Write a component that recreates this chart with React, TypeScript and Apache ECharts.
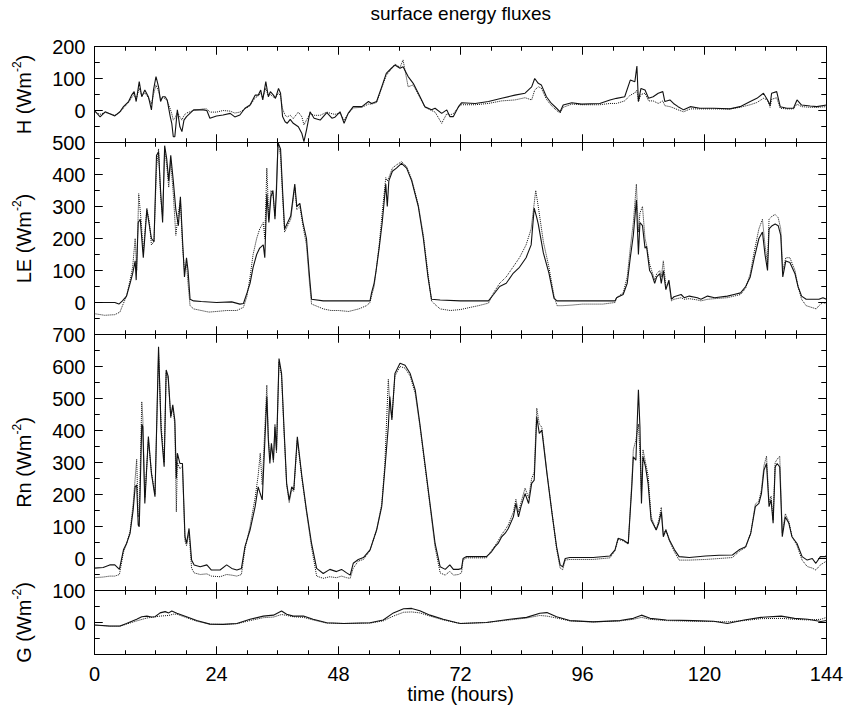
import React, { useEffect, useRef } from "react";
import * as echarts from "echarts";

// time (hours), value (W m-2)
const H_obs = [[0,0],[1.1,-20],[2.1,-4],[3,-10],[4,-17],[5,-4],[5.7,12],[6.7,28],[7.3,48],[7.8,59],[8.2,28],[8.8,90],[9.3,43],[9.9,64],[10.6,43],[11.2,2],[11.6,64],[12.1,106],[12.6,74],[13,28],[13.4,43],[13.9,43],[14.3,33],[14.9,-19],[15.2,-40],[15.5,-82],[15.8,-82],[16.3,2],[16.8,-51],[17.2,-66],[17.6,-30],[18.1,-19],[19.5,2],[21.4,2],[22.1,0],[22.7,-24],[24,-17],[25.3,-14],[26.7,-9],[27.6,-20],[28.6,-14],[29.6,7],[30.6,17],[31.6,48],[32.2,48],[32.7,64],[33.1,33],[33.7,90],[34.2,43],[34.6,59],[35.2,48],[35.6,38],[36.2,69],[36.6,54],[37,-19],[37.5,-35],[37.9,-40],[38.5,-28],[39.1,-40],[40.1,-51],[40.8,-72],[41.2,-97],[41.7,-61],[42.4,-4],[43.2,-24],[44.4,-30],[45.7,-7],[46.7,-24],[47.3,-21],[48.3,-4],[49.1,-40],[49.9,-9],[50.9,12],[52.6,12],[53.9,28],[54.5,22],[55.5,28],[56.5,74],[57.4,116],[58.4,132],[59.1,142],[60.1,132],[60.7,137],[61.7,106],[62.7,85],[63.7,54],[65,12],[66.3,2],[67,7],[68.3,-9],[69.3,2],[69.9,-19],[70.6,-19],[71.6,12],[72.2,24],[74.9,22],[77.5,28],[80.1,38],[82.7,48],[84.7,54],[86,74],[86.6,100],[87.3,85],[87.9,80],[88.9,43],[89.9,22],[90.9,7],[91.6,-4],[92.2,17],[93.9,24],[95.8,20],[99.4,22],[101.4,33],[102.7,38],[104.3,43],[105.4,95],[106.3,90],[106.7,139],[107,28],[107.5,69],[108.3,64],[109,38],[109.9,43],[110.9,54],[111.8,59],[112.2,28],[113.2,33],[113.9,22],[114.8,12],[115.9,2],[117.2,12],[119.1,7],[121.8,7],[125,5],[127,12],[129,28],[130.3,38],[131.6,54],[132.4,33],[132.9,17],[133.2,54],[134.2,59],[134.9,12],[136.2,7],[137.5,7],[138.2,33],[139.1,17],[140.8,14],[142.1,12],[144,17]];
const H_mod = [[0,-5],[1.1,-12],[2.1,-6],[3,-10],[4,-15],[5,-6],[5.7,8],[6.7,25],[7.3,40],[7.8,50],[8.2,35],[8.8,70],[9.3,45],[9.9,55],[10.6,40],[11.2,20],[11.6,50],[12.1,80],[12.6,60],[13,35],[13.4,40],[13.9,38],[14.3,30],[14.9,5],[15.2,-10],[15.5,-30],[15.8,-25],[16.3,-5],[16.8,-20],[17.2,-30],[17.6,-15],[18.1,-8],[19.5,0],[21.4,5],[22.1,5],[22.7,-5],[24,-5],[25.3,0],[26.7,-2],[27.6,-8],[28.6,-5],[29.6,5],[30.6,15],[31.6,40],[32.2,45],[32.7,55],[33.1,40],[33.7,70],[34.2,45],[34.6,50],[35.2,42],[35.6,40],[36.2,55],[36.6,45],[37,5],[37.5,-15],[37.9,-20],[38.5,-15],[39.1,-25],[40.1,-5],[40.8,-20],[41.2,-45],[41.7,-30],[42.4,-10],[43.2,-15],[44.4,-15],[45.7,-5],[46.7,-10],[47.3,-12],[48.3,-8],[49.1,-30],[49.9,-10],[50.9,8],[52.6,10],[53.9,20],[54.5,20],[55.5,25],[56.5,70],[57.4,110],[58.4,130],[59.1,145],[60.1,135],[60.7,158],[61.7,74],[62.7,80],[63.7,50],[65,10],[66.3,0],[67,-5],[68.3,-40],[69.3,-10],[69.9,-14],[70.6,-10],[71.6,10],[72.2,18],[74.9,18],[77.5,22],[80.1,30],[82.7,33],[84.7,40],[86,33],[86.6,64],[87.3,74],[87.9,70],[88.9,35],[89.9,15],[90.9,0],[91.6,-8],[92.2,10],[93.9,20],[95.8,18],[99.4,18],[101.4,22],[102.7,22],[104.3,30],[105.4,48],[106.3,55],[106.7,64],[107,28],[107.5,50],[108.3,54],[109,30],[109.9,30],[110.9,22],[111.8,30],[112.2,15],[113.2,12],[113.9,8],[114.8,2],[115.9,-4],[117.2,5],[119.1,5],[121.8,5],[125,5],[127,10],[129,18],[130.3,25],[131.6,38],[132.4,33],[132.9,10],[133.2,35],[134.2,40],[134.9,7],[136.2,5],[137.5,5],[138.2,20],[139.1,12],[140.8,10],[142.1,10],[144,12]];

const LE_obs = [[0,0],[2,0],[4,0],[4.8,-5],[5.5,5],[6.3,20],[7,60],[7.5,90],[8,130],[8.2,70],[8.6,250],[9,260],[9.6,140],[10.3,290],[10.8,240],[11.2,200],[11.7,190],[12.2,460],[12.6,470],[13,350],[13.4,250],[13.8,490],[14.2,450],[14.6,380],[15,460],[15.5,380],[16,290],[16.5,240],[16.9,330],[17.3,200],[17.7,80],[18.1,140],[18.4,100],[18.8,10],[19.5,5],[21,3],[24,0],[27,2],[28.6,-5],[29.3,-3],[30,30],[30.6,60],[31.2,110],[31.9,150],[32.5,170],[33.2,180],[33.5,140],[33.9,340],[34.3,250],[34.7,330],[35.1,350],[35.5,260],[35.8,350],[36.1,500],[36.6,480],[37,350],[37.4,230],[38,250],[38.6,270],[39.4,370],[39.8,300],[40.4,310],[41,250],[41.7,200],[42.3,80],[42.7,10],[45,5],[48,5],[51,5],[54.2,5],[54.5,30],[55,60],[55.4,100],[56,170],[56.6,250],[57.3,370],[57.6,300],[57.9,380],[58.6,410],[59.4,420],[60.4,435],[61.4,420],[62.4,380],[63.7,300],[64.7,200],[65.6,80],[66.3,10],[68,8],[72,5],[75,5],[77.5,5],[78.5,25],[79.7,50],[81,60],[82.3,90],[83.6,110],[84.9,140],[85.9,180],[86.5,295],[87,265],[87.3,245],[88.3,155],[89.4,92],[90.4,13],[91,5],[96,5],[102.4,5],[102.7,15],[104,25],[104.8,60],[105.4,140],[106,210],[106.6,320],[107,150],[107.3,250],[107.8,240],[108.3,170],[108.6,175],[109.2,100],[109.6,90],[110.2,60],[110.6,80],[111.2,90],[111.5,60],[111.9,100],[112.4,40],[113,70],[113.5,10],[114,18],[115.4,25],[116,15],[117,20],[118.6,15],[119.3,10],[120.6,20],[122,15],[124.5,20],[125.8,25],[127.1,30],[128.1,50],[129,80],[129.8,140],[130.7,200],[131.4,220],[131.9,150],[132.4,100],[132.7,230],[133.3,240],[133.9,245],[134.5,240],[135,210],[135.4,80],[136,130],[136.8,125],[137.8,90],[138.4,50],[139.1,20],[140,10],[141,10],[142.5,10],[143.3,15],[144,10]];
const LE_mod = [[0,-35],[2,-40],[4,-38],[5,-30],[5.5,-10],[6.3,20],[7,70],[7.5,110],[8,200],[8.3,100],[8.7,340],[9.2,250],[9.6,160],[10.3,295],[10.8,250],[11.2,180],[11.7,190],[12.2,420],[12.6,480],[13,330],[13.4,270],[13.8,480],[14.2,430],[14.6,360],[15,440],[15.5,340],[16,210],[16.5,280],[16.9,320],[17.3,180],[17.7,100],[18.1,120],[18.4,60],[18.8,-10],[19.5,-20],[21,-25],[22.5,-30],[24,-28],[26,-25],[28,-25],[29.3,-15],[30,20],[30.6,80],[31.2,150],[31.9,200],[32.5,230],[33.2,250],[33.5,200],[33.9,420],[34.3,260],[34.7,350],[35.1,340],[35.5,270],[35.8,370],[36.1,500],[36.6,460],[37,330],[37.4,220],[38,240],[38.6,260],[39.4,360],[39.8,290],[40.4,300],[41,240],[41.7,180],[42.3,60],[42.7,-5],[43.5,-10],[45,-20],[46.5,-25],[48,-25],[50,-28],[52,-20],[53.5,-10],[54.2,0],[54.5,20],[55,50],[55.4,100],[56,180],[56.6,280],[57.3,390],[57.6,380],[57.9,390],[58.6,420],[59.4,430],[60.4,440],[61.4,425],[62.4,385],[63.7,305],[64.7,210],[65.6,90],[66.3,5],[66.9,-5],[68,-20],[70,-25],[72,-22],[74,-15],[75.5,-10],[77.5,-2],[78.5,30],[79.7,60],[81,80],[82.3,110],[83.6,140],[84.9,180],[85.9,230],[86.8,350],[87.3,300],[88.3,190],[89.4,110],[90.4,20],[91,-10],[92,-10],[94,-8],[96,-5],[100,-5],[102.4,0],[102.7,15],[104,30],[104.8,80],[105.4,170],[106,250],[106.6,370],[107,220],[107.3,280],[107.8,300],[108.3,200],[108.6,180],[109.2,120],[109.6,100],[110.2,70],[110.6,90],[111.2,100],[111.5,80],[111.9,130],[112.4,50],[113,60],[113.5,5],[114,10],[115.4,15],[116,10],[117,12],[118.6,8],[119.3,5],[120.6,10],[122,12],[124.5,15],[125.8,20],[127.1,25],[128.1,45],[129,90],[129.8,160],[130.7,230],[131.4,260],[131.9,180],[132.4,120],[132.7,260],[133.3,270],[133.9,275],[134.5,265],[135,230],[135.4,100],[136,140],[136.8,140],[137.8,100],[138.4,50],[139.1,10],[140,-10],[141,-15],[142,-20],[142.5,-10],[143.3,0],[144,-5]];

const Rn_obs = [[0,-30],[1.7,-28],[3,-20],[4,-20],[4.9,-34],[5.7,27],[6.3,47],[7,79],[7.6,151],[8,224],[8.3,230],[8.6,105],[8.8,99],[9.3,420],[9.5,412],[9.9,172],[10.6,381],[11.2,266],[11.9,193],[12.6,662],[13.1,401],[13.7,287],[14.1,589],[14.5,569],[15,443],[15.4,480],[15.8,432],[16.1,250],[16.3,329],[16.8,297],[17.3,297],[17.8,68],[18.1,47],[18.6,94],[19.1,-5],[19.6,-20],[20.8,-26],[22.1,-20],[23,-36],[24.7,-36],[26,-20],[27,-31],[28,-36],[28.9,-31],[29.6,37],[30.6,89],[31.6,162],[32.2,224],[32.6,203],[33,183],[33.9,506],[34.2,370],[34.5,297],[34.8,360],[35.2,307],[35.5,412],[35.8,339],[36.3,625],[36.8,578],[37.3,401],[37.8,235],[38.3,183],[38.8,224],[39.2,214],[39.9,380],[40.8,256],[41.7,151],[42.7,47],[43.7,-31],[45,-47],[46.3,-34],[47.6,-41],[48.6,-34],[49.6,-45],[50.3,-52],[50.9,-15],[51.9,-3],[52.9,3],[54.2,27],[55.5,89],[56.5,162],[57.1,276],[57.8,412],[58.1,506],[58.5,433],[59.1,578],[60.1,610],[61.1,604],[62.1,578],[63.1,526],[64,422],[65,297],[66,172],[67,47],[68,-26],[69,-34],[69.9,-20],[70.6,-34],[71.6,-34],[72.2,-31],[72.5,0],[73.2,6],[77.1,6],[78.1,21],[78.8,37],[79.4,47],[80.1,68],[80.8,79],[81.4,94],[82.4,130],[82.9,172],[83.4,130],[83.9,162],[84.7,203],[85.4,172],[86,235],[86.5,245],[87,443],[87.5,391],[88,401],[89,266],[90,141],[90.9,37],[91.6,-20],[92.1,-26],[92.6,0],[93.5,3],[98.1,3],[101.4,8],[102.4,27],[103,63],[104,58],[105,47],[105.7,224],[106,318],[106.5,307],[107,527],[107.3,411],[107.6,172],[107.9,318],[108.4,286],[108.9,235],[109.5,120],[110.5,89],[111,110],[111.5,146],[111.9,68],[112.4,89],[113.1,58],[114.1,27],[115,6],[117,3],[120.2,8],[122.9,10],[125.5,11],[126.8,27],[128.1,37],[129.1,79],[130,162],[130.7,172],[131.2,203],[131.7,276],[132.2,297],[132.7,162],[133.1,183],[133.5,110],[133.9,286],[134.3,297],[134.8,286],[135.3,68],[135.9,130],[136.6,110],[137.2,68],[138.2,47],[139.2,6],[140.2,-5],[141.2,0],[141.9,-15],[142.8,6],[143.8,6],[144,10]];
const Rn_mod = [[0,-60],[1.7,-58],[3,-55],[4,-55],[4.9,-50],[5.7,20],[6.3,45],[7,85],[7.6,170],[8,250],[8.3,310],[8.6,130],[8.8,140],[9.3,490],[9.5,440],[9.9,190],[10.6,370],[11.2,270],[11.9,200],[12.6,640],[13.1,420],[13.7,300],[14.1,580],[14.5,560],[15,440],[15.4,470],[15.8,420],[16.1,146],[16.3,300],[16.8,280],[17.3,290],[17.8,55],[18.1,40],[18.6,80],[19.1,-30],[19.6,-45],[20.8,-50],[22.1,-48],[23,-55],[24.7,-57],[26,-50],[27,-52],[28,-55],[28.9,-50],[29.6,30],[30.6,100],[31.6,190],[32.2,260],[32.6,329],[33,230],[33.9,542],[34.2,380],[34.5,310],[34.8,350],[35.2,300],[35.5,420],[35.8,330],[36.3,615],[36.8,570],[37.3,390],[37.8,230],[38.3,175],[38.8,215],[39.2,210],[39.9,370],[40.8,250],[41.7,145],[42.7,35],[43.7,-55],[45,-62],[46.3,-57],[47.6,-60],[48.6,-55],[49.6,-60],[50.3,-62],[50.9,-30],[51.9,-8],[52.9,-3],[54.2,25],[55.5,90],[56.5,170],[57.1,290],[57.8,560],[58.1,480],[58.5,440],[59.1,570],[60.1,600],[61.1,595],[62.1,570],[63.1,515],[64,415],[65,290],[66,165],[67,35],[68,-45],[69,-52],[69.9,-40],[70.6,-52],[71.6,-50],[72.2,-45],[72.5,-5],[73.2,2],[77.1,2],[78.1,25],[78.8,40],[79.4,55],[80.1,75],[80.8,90],[81.4,105],[82.4,145],[82.9,185],[83.4,145],[83.9,175],[84.7,220],[85.4,190],[86,250],[86.5,270],[87,470],[87.5,420],[88,410],[89,270],[90,145],[90.9,30],[91.6,-30],[92.1,-35],[92.6,-5],[93.5,-3],[98.1,-3],[101.4,2],[102.4,25],[103,60],[104,55],[105,45],[105.7,240],[106,340],[106.5,370],[107,420],[107.3,330],[107.6,200],[107.9,340],[108.4,300],[108.9,260],[109.5,130],[110.5,90],[111,120],[111.5,160],[111.9,75],[112.4,90],[113.1,55],[114.1,20],[115,-5],[117,-5],[120.2,-3],[122.9,0],[125.5,3],[126.8,22],[128.1,35],[129.1,80],[130,170],[130.7,180],[131.2,215],[131.7,290],[132.2,320],[132.7,175],[133.1,195],[133.5,120],[133.9,300],[134.3,310],[134.8,320],[135.3,80],[135.9,140],[136.6,115],[137.2,70],[138.2,40],[139.2,-5],[140.2,-25],[141.2,-30],[141.9,-36],[142.8,-20],[143.8,-10],[144,-8]];

const G_obs = [[0,-8],[3,-11],[5,-11],[6.3,-3],[8.3,10],[9.3,18],[10.3,20],[11.2,17],[11.9,18],[12.9,30],[13.9,34],[14.6,30],[15.2,36],[16.2,29],[18.1,18],[20.1,6],[22.7,-5],[25.3,-6],[28,-3],[30.6,10],[33.2,20],[35.2,23],[36.8,36],[37.8,26],[39.1,20],[41.1,20],[43,10],[45.7,-1],[49,-3],[54.2,-1],[56.8,8],[58.8,30],[60.8,43],[62.4,44],[64,37],[66,23],[68.6,10],[71.3,-1],[72,-3],[77.1,0],[81.7,10],[85,16],[87.6,29],[89,31],[90.9,18],[93.5,6],[98.1,2],[103.4,6],[106,13],[107.6,23],[109.3,13],[112.5,8],[117.8,6],[121.8,4],[124.5,-3],[127.8,8],[131.1,16],[135.1,20],[137.7,13],[140.3,10],[142.9,3],[144,6]];
const G_mod = [[0,-8],[3,-12],[5,-12],[6.3,-5],[8.3,5],[10.3,14],[12.9,20],[14.6,22],[15.5,26],[16.2,26],[18.1,15],[20.1,4],[22.7,-5],[25.3,-6],[28,-4],[30.6,6],[33.2,15],[35.2,17],[36.8,25],[37.8,22],[39.1,18],[41.1,16],[43,8],[45.7,-2],[49,-3],[54.2,-2],[56.8,5],[58.8,20],[60.8,32],[62.4,33],[64,30],[66,20],[68.6,8],[71.3,-1],[72,-3],[77.1,0],[81.7,8],[85,14],[87.6,22],[89,20],[90.9,14],[93.5,5],[98.1,2],[103.4,5],[106,10],[107.6,16],[109.3,10],[112.5,6],[117.8,4],[121.8,3],[124.5,2],[127.8,6],[131.1,12],[135.1,13],[137.7,10],[140.3,8],[142.9,10],[144,16]];

const PANEL_NAMES = ["H", "LE", "Rn", "G"];
const PANEL_MIN = [-100, -100, -100, -100];
const PANEL_MAX = [200, 500, 700, 100];
const OBS = [H_obs, LE_obs, Rn_obs, G_obs];
const MOD = [H_mod, LE_mod, Rn_mod, G_mod];
const TITLE = "surface energy fluxes";
const X_NAME = "time (hours)";

// tick positions (hours, every 6 h; longer every 24 h)
const X_TICKS = [0, 6, 12, 18, 24, 30, 36, 42, 48, 54, 60, 66, 72, 78, 84, 90, 96, 102, 108, 114, 120, 126, 132, 138, 144];
// tick positions on the flux axes (every 50; longer every 100)
const Y_TICKS = [
  [-100, -50, 0, 50, 100, 150, 200],
  [-100, -50, 0, 50, 100, 150, 200, 250, 300, 350, 400, 450, 500],
  [-100, -50, 0, 50, 100, 150, 200, 250, 300, 350, 400, 450, 500, 550, 600, 650, 700],
  [-100, -50, 0, 50, 100],
];

const FONT = "Liberation Sans, Arial, Helvetica, sans-serif";
const INK = "#000";

export default function App() {
  const ref = useRef<HTMLDivElement>(null);
  useEffect(() => {
    if (!ref.current) return;
    const chart = echarts.init(ref.current, undefined, { renderer: "svg" });
    const pxPer100 = 32;
    const leftPx = 94.5;
    const rightPx = 20.5;
    const grids: any[] = [];
    const xAxes: any[] = [];
    const yAxes: any[] = [];
    const series: any[] = [];
    let top = 46.5;
    const panelTops: number[] = [];
    const panelHeights: number[] = [];

    const xAxisFor = (i: number, position: string, extra: any) => ({
      type: "value", gridIndex: i, min: 0, max: 144, interval: 24, position,
      axisLine: { show: false, onZero: false },
      splitLine: { show: false },
      axisTick: { show: true, inside: true, length: 8, lineStyle: { color: INK, width: 1 } },
      minorTick: { show: true, splitNumber: 4, length: 4, lineStyle: { color: INK, width: 1 } },
      ...extra,
    });
    const yAxisFor = (i: number, position: string, extra: any) => ({
      type: "value", gridIndex: i, min: PANEL_MIN[i], max: PANEL_MAX[i], interval: 100, position,
      axisLine: { show: false, onZero: false },
      splitLine: { show: false },
      axisTick: { show: true, inside: true, length: 8, lineStyle: { color: INK, width: 1 } },
      minorTick: { show: true, splitNumber: 2, length: 5, lineStyle: { color: INK, width: 1 } },
      ...extra,
    });

    PANEL_NAMES.forEach((name, i) => {
      const h = ((PANEL_MAX[i] - PANEL_MIN[i]) / 100) * pxPer100;
      panelTops.push(top);
      panelHeights.push(h);
      grids.push({
        left: leftPx, right: rightPx, top, height: h,
        show: true, borderColor: INK, borderWidth: 1,
      });
      top += h;
      const last = i === PANEL_NAMES.length - 1;
      xAxes.push(xAxisFor(i, "bottom", last ? {
        axisLabel: { show: true, fontSize: 20, color: INK, fontFamily: FONT, margin: 9 },
      } : { axisLabel: { show: false } }));
      xAxes.push(xAxisFor(i, "top", { axisLabel: { show: false } }));
      yAxes.push(yAxisFor(i, "left", {
        axisLabel: { show: true, showMinLabel: false, fontSize: 20, color: INK, fontFamily: FONT, margin: 9 },
      }));
      yAxes.push(yAxisFor(i, "right", { axisLabel: { show: false } }));
      series.push({
        type: "line", xAxisIndex: 2 * i, yAxisIndex: 2 * i, data: OBS[i],
        showSymbol: false,
        lineStyle: { color: "#111", width: 1.1 },
      });
      series.push({
        type: "line", xAxisIndex: 2 * i, yAxisIndex: 2 * i, data: MOD[i],
        showSymbol: false,
        lineStyle: { color: "#111", width: 1, type: "dotted" },
      });
    });

    chart.setOption({
      animation: false,
      grid: grids,
      xAxis: xAxes,
      yAxis: yAxes,
      series,
    });

    // texts and tick marks as graphic elements, placed through the grids' own scales
    const plotCenter = leftPx + (847 - leftPx - rightPx) / 2;
    const graphics: any[] = [
      {
        type: "text", left: plotCenter - 90, top: 4,
        style: { text: TITLE, font: `19px ${FONT}`, fill: INK },
      },
      {
        type: "text", x: plotCenter, y: 694,
        style: { text: X_NAME, font: `20px ${FONT}`, fill: INK, textAlign: "center", textVerticalAlign: "middle" },
      },
    ];
    PANEL_NAMES.forEach((name, i) => {
      const cy = panelTops[i] + panelHeights[i] / 2;
      graphics.push({
        type: "text", x: 24, y: cy, rotation: Math.PI / 2,
        style: {
          text: `{n|${name} (Wm}{s|-2}{n|)}`,
          fill: INK, align: "center", verticalAlign: "middle",
          rich: {
            n: { fontSize: 20, fontFamily: FONT, fill: INK, lineHeight: 26, verticalAlign: "middle" },
            s: { fontSize: 12, fontFamily: FONT, fill: INK, lineHeight: 12, verticalAlign: "top" },
          },
        },
      });
    });
    const tickStyle = { stroke: INK, lineWidth: 1 };
    PANEL_NAMES.forEach((_n, i) => {
      const yMin = PANEL_MIN[i];
      const yMax = PANEL_MAX[i];
      X_TICKS.forEach((t) => {
        const b = chart.convertToPixel({ gridIndex: i } as any, [t, yMin]) as number[];
        const tp = chart.convertToPixel({ gridIndex: i } as any, [t, yMax]) as number[];
        if (!b || !tp) return;
        const len = t % 24 === 0 ? 8 : 4;
        const x = Math.round(b[0] - 0.5) + 0.5;
        graphics.push({ type: "line", z: 100, silent: true, shape: { x1: x, y1: b[1], x2: x, y2: b[1] - len }, style: tickStyle });
        graphics.push({ type: "line", z: 100, silent: true, shape: { x1: x, y1: tp[1], x2: x, y2: tp[1] + len }, style: tickStyle });
      });
      Y_TICKS[i].forEach((v) => {
        const l = chart.convertToPixel({ gridIndex: i } as any, [0, v]) as number[];
        const r = chart.convertToPixel({ gridIndex: i } as any, [144, v]) as number[];
        if (!l || !r) return;
        const len = v % 100 === 0 ? 8 : 5;
        const y = Math.round(l[1] - 0.5) + 0.5;
        graphics.push({ type: "line", z: 100, silent: true, shape: { x1: l[0], y1: y, x2: l[0] + len, y2: y }, style: tickStyle });
        graphics.push({ type: "line", z: 100, silent: true, shape: { x1: r[0], y1: y, x2: r[0] - len, y2: y }, style: tickStyle });
      });
    });
    chart.setOption({ graphic: graphics });

    return () => chart.dispose();
  }, []);
  return (
    <div
      ref={ref}
      style={{ position: "fixed", left: 0, top: 0, width: 847, height: 708, background: "#fff" }}
    />
  );
}
